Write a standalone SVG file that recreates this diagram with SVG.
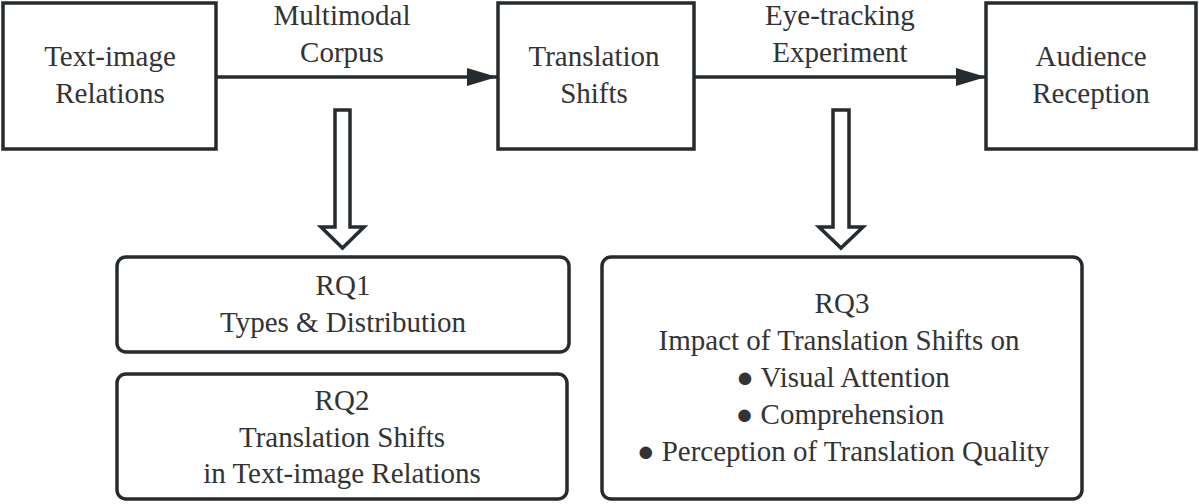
<svg xmlns="http://www.w3.org/2000/svg" width="1199" height="504" viewBox="0 0 1199 504">
<defs>
<style>
.box{fill:#ffffff;stroke:#262b2f;stroke-width:3.5}
.t{font-family:'Liberation Serif','Times New Roman','DejaVu Serif','Noto Serif',serif;font-size:29px;fill:#333333;text-anchor:middle}
.line{stroke:#262b2f;stroke-width:3.5;fill:none}
.hollow{fill:#ffffff;stroke:#262b2f;stroke-width:3.5;stroke-linejoin:miter}
</style>
<marker id="ah" markerUnits="userSpaceOnUse" markerWidth="30" markerHeight="20" refX="30" refY="9" orient="auto">
<path d="M0,0 L30,9 L0,18 Z" fill="#262b2f"/>
</marker>
</defs>
<rect width="1199" height="504" fill="#ffffff"/>
<g id="connectors">
<line class="line" x1="217" y1="77" x2="497" y2="77" marker-end="url(#ah)"/>
<text class="t" x="342" y="25" font-family="Liberation Serif, serif">Multimodal</text>
<text class="t" x="342" y="62" font-family="Liberation Serif, serif">Corpus</text>
<line class="line" x1="694" y1="77" x2="986" y2="77" marker-end="url(#ah)"/>
<text class="t" x="840" y="25">Eye-tracking</text>
<text class="t" x="840" y="62">Experiment</text>
<path class="hollow" d="M335,110 H350 V227 H364 L342.5,248 L321,227 H335 Z"/>
<path class="hollow" d="M833,110 H849 V227 H863 L841,248 L819,227 H833 Z"/>
</g>
<g id="node-text-image">
<rect class="box" x="3" y="3" width="213" height="146"/>
<text class="t" x="110" y="66">Text-image</text>
<text class="t" x="110" y="103">Relations</text>
</g>
<g id="node-translation-shifts">
<rect class="box" x="498" y="3" width="196" height="146"/>
<text class="t" x="594" y="66">Translation</text>
<text class="t" x="594" y="103">Shifts</text>
</g>
<g id="node-audience">
<rect class="box" x="986" y="3" width="210" height="146"/>
<text class="t" x="1091" y="66">Audience</text>
<text class="t" x="1091" y="103">Reception</text>
</g>
<g id="node-rq1">
<rect class="box" x="117" y="257" width="452" height="95" rx="9"/>
<text class="t" x="343" y="295">RQ1</text>
<text class="t" x="343" y="332">Types &amp; Distribution</text>
</g>
<g id="node-rq2">
<rect class="box" x="117" y="374" width="450" height="125" rx="9"/>
<text class="t" x="342" y="410">RQ2</text>
<text class="t" x="342" y="447">Translation Shifts</text>
<text class="t" x="342" y="483">in Text-image Relations</text>
</g>
<g id="node-rq3">
<rect class="box" x="602" y="257" width="480" height="242" rx="9"/>
<text class="t" x="842" y="313">RQ3</text>
<text class="t" x="839" y="350">Impact of Translation Shifts on</text>
<text class="t" x="843" y="387">● Visual Attention</text>
<text class="t" x="840" y="424">● Comprehension</text>
<text class="t" x="843" y="461">● Perception of Translation Quality</text>
</g>
</svg>
